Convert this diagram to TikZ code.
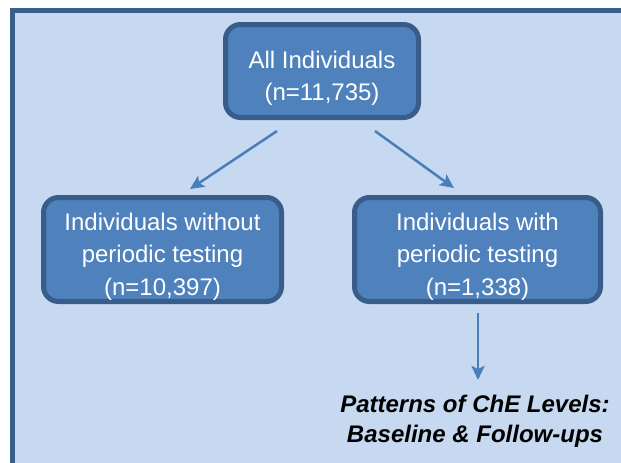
\documentclass[tikz,border=0pt]{standalone}
\usepackage{fontspec}
\setmainfont{Liberation Sans}
\usetikzlibrary{arrows.meta}
\definecolor{bgblue}{RGB}{198,217,240}
\definecolor{framec}{RGB}{58,95,139}
\definecolor{boxfill}{RGB}{79,129,189}
\definecolor{boxline}{RGB}{56,93,138}
\definecolor{arrowc}{RGB}{74,126,187}
\newcommand{\boxtopgap}{\rule{0pt}{31.5pt}}
\tikzset{
  flowbox/.style={draw=boxline, fill=boxfill, line width=5pt, rounded corners=15pt,
    text=white, align=center, inner sep=0pt,
    font=\fontsize{24}{32.5}\selectfont},
  flowarrow/.style={draw=arrowc, line width=2.5pt, -{Stealth[length=14pt,width=13pt,inset=3pt]}},
  resulttext/.style={align=center, inner sep=0pt, text=black,
    font=\fontsize{24}{30}\selectfont\bfseries\itshape}
}
\begin{document}
\begin{tikzpicture}[x=1pt,y=-1pt]
\useasboundingbox (0,0) rectangle (621,463);
\fill[white] (0,0) rectangle (621,463);
\begin{scope}
\clip (0,0) rectangle (621,463);
\draw[draw=framec, fill=bgblue, line width=5pt] (12.5,10.5) rectangle (650,490);
\end{scope}

\node[flowbox, minimum width=193pt, minimum height=93pt] (all) at (322,71)
  {\boxtopgap All Individuals\\(n=11,735)};
\node[flowbox, minimum width=238pt, minimum height=104pt] (without) at (162.5,249.5)
  {\boxtopgap Individuals without\\periodic testing\\(n=10,397)};
\node[flowbox, minimum width=246pt, minimum height=104pt] (with) at (477.5,249.5)
  {\boxtopgap Individuals with\\periodic testing\\(n=1,338)};
\node[resulttext] (patterns) at (475,421)
  {Patterns of ChE Levels:\\Baseline \& Follow-ups};

\coordinate (a1s) at (277,131);
\coordinate (a1e) at (190,189);
\coordinate (a2s) at (375,131);
\coordinate (a2e) at (454,188);
\coordinate (a3s) at (478,313);
\coordinate (a3e) at (478,380);

\draw[flowarrow] (a1s) -- (a1e);
\draw[flowarrow] (a2s) -- (a2e);
\draw[flowarrow] (a3s) -- (a3e);
\end{tikzpicture}
\end{document}
